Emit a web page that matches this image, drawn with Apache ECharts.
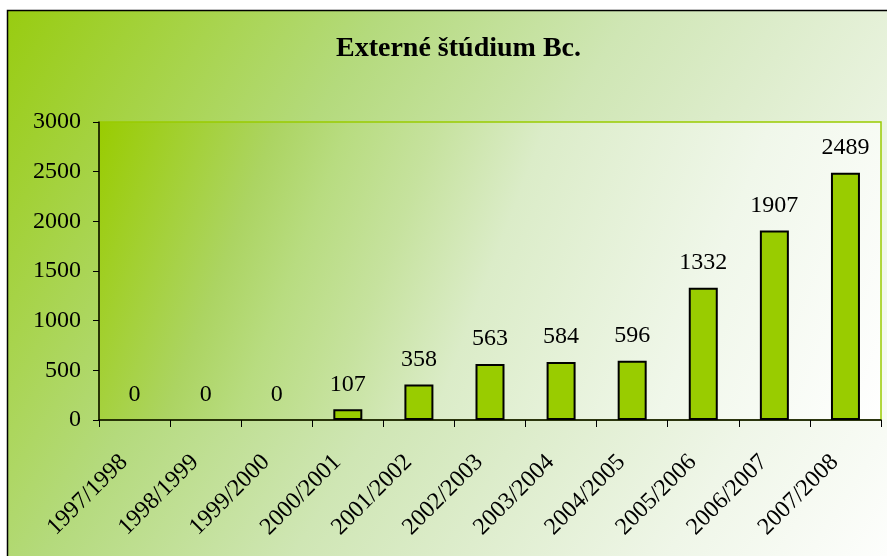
<!DOCTYPE html>
<html>
<head>
<meta charset="utf-8">
<script src="https://cdn.jsdelivr.net/npm/echarts@6/dist/echarts.min.js"></script>
<style>
html,body{margin:0;padding:0;background:#fff;}
#c{width:887px;height:556px;}
</style>
</head>
<body>
<div id="c"></div>
<script>
const categories = ['1997/1998','1998/1999','1999/2000','2000/2001','2001/2002','2002/2003','2003/2004','2004/2005','2005/2006','2006/2007','2007/2008'];
const values = [0,0,0,107,358,563,584,596,1332,1907,2489];
const yTicks = [0,500,1000,1500,2000,2500,3000];
const titleText = 'Externé štúdium Bc.';

const serif = '"Liberation Serif", "DejaVu Serif", serif';
const chart = echarts.init(document.getElementById('c'), null, {renderer:'canvas'});
const barData = values.map(v => v === 0 ? {value:v, itemStyle:{borderWidth:0}} : v);
chart.setOption({
  animation:false,
  backgroundColor:'#ffffff',
  graphic:[{
    type:'rect', z:-10, silent:true,
    shape:{x:7.5, y:10.5, width:900, height:560},
    style:{
      fill:new echarts.graphic.LinearGradient(0,0,1,1,[
        {offset:0,color:'#98cc10'},
        {offset:0.3,color:'#b4da7c'},
        {offset:0.5,color:'#cfe6b4'},
        {offset:0.62,color:'#dcecca'},
        {offset:0.8,color:'#eff6e8'},
        {offset:1,color:'#ffffff'}
      ]),
      stroke:'#000', lineWidth:1.5
    }
  }],
  title:{
    text:titleText, left:331, top:30,
    textStyle:{fontFamily:serif, fontWeight:'bold', fontSize:28, color:'#000'}
  },
  grid:{
    left:99, right:6, top:122, bottom:136, containLabel:false,
    show:true, borderColor:'#99cc00', borderWidth:1.5,
    backgroundColor:new echarts.graphic.LinearGradient(0,0,1,1,[
      {offset:0,color:'#99cc00'},
      {offset:0.2,color:'#acd462'},
      {offset:0.28,color:'#b8dc80'},
      {offset:0.38,color:'#c6e29e'},
      {offset:0.5,color:'#dbecc8'},
      {offset:0.75,color:'#f0f7ea'},
      {offset:1,color:'#ffffff'}
    ])
  },
  xAxis:{
    type:'category', data:categories, boundaryGap:true,
    axisLine:{show:true, lineStyle:{color:'#000', width:1.5}},
    axisTick:{show:true, alignWithLabel:false, length:7, lineStyle:{color:'#000'}},
    axisLabel:{rotate:45, margin:28, padding:[0,15,0,0], color:'#000', fontFamily:serif, fontSize:24, interval:0}
  },
  yAxis:{
    type:'value', min:yTicks[0], max:yTicks[yTicks.length-1], interval:500,
    splitLine:{show:false},
    axisLine:{show:true, lineStyle:{color:'#000', width:1.5}},
    axisTick:{show:true, length:6, lineStyle:{color:'#000'}},
    axisLabel:{margin:18, color:'#000', fontFamily:serif, fontSize:24, formatter: v => String(v)}
  },
  series:[{
    type:'bar', data:barData, barWidth:29,
    itemStyle:{color:'#99cc00', borderColor:'#000', borderWidth:2},
    label:{show:true, position:'top', distance:13, color:'#000', fontFamily:serif, fontSize:24}
  }]
});
</script>
</body>
</html>
